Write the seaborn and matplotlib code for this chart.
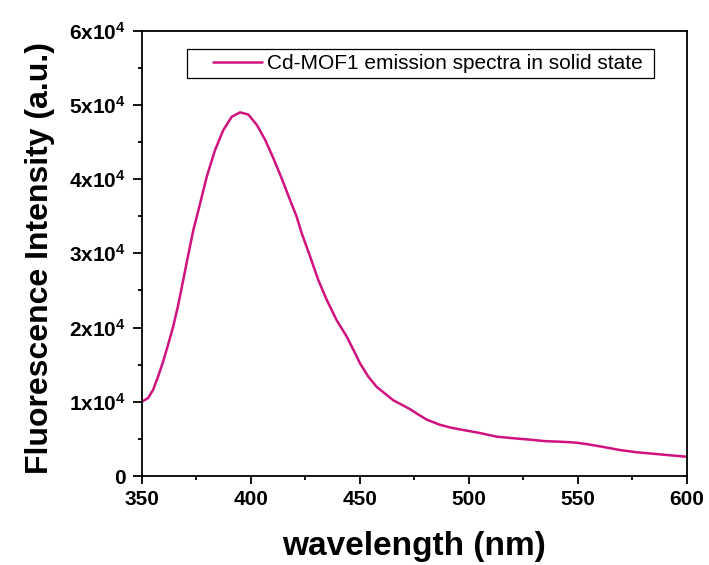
import numpy as np
import pandas as pd
import matplotlib
matplotlib.use("Agg")
import matplotlib.pyplot as plt
from matplotlib.ticker import FixedLocator, MultipleLocator, FuncFormatter
from matplotlib.legend_handler import HandlerLine2D
import seaborn as sns

# Emission spectrum of Cd-MOF1 (solid state)
wavelength = [350.0, 352.9, 355.2, 357.5, 359.8, 362.1, 364.4, 366.7, 368.9, 371.2,
              373.8, 376.0, 379.8, 383.6, 387.4, 391.3, 395.1, 398.9, 402.8, 406.6,
              410.4, 414.2, 418.0, 421.0, 423.4, 427.2, 431.0, 434.9, 439.4, 444.0,
              447.1, 450.1, 453.9, 457.8, 461.6, 465.4, 469.3, 473.1, 476.8, 480.7,
              486.8, 492.0, 497.5, 505.0, 512.8, 520.0, 528.1, 535.0, 543.4, 549.0,
              554.1, 562.0, 569.4, 577.0, 584.7, 592.0, 600.0]
intensity = [10000, 10500, 11600, 13400, 15400, 17700, 20100, 23000, 26200, 29600,
             33300, 35800, 40300, 43900, 46600, 48400, 49000, 48700, 47300, 45300,
             42800, 40100, 37200, 35000, 32700, 29600, 26400, 23700, 21000, 18800,
             17000, 15200, 13400, 12000, 11100, 10200, 9600, 9000, 8300, 7600,
             6900, 6500, 6200, 5800, 5300, 5100, 4900, 4700, 4600, 4500,
             4300, 3900, 3500, 3200, 3000, 2800, 2600]
series_label = "Cd-MOF1 emission spectra in solid state"
y_ticks = [0, 10000, 20000, 30000, 40000, 50000, 60000]
x_ticks = [350, 400, 450, 500, 550, 600]

# trailing space widens the legend box on the right
df = pd.DataFrame({"wavelength": wavelength, "intensity": intensity,
                   "series": series_label + " "})

sns.set_style("ticks")
plt.rcParams["font.family"] = ["Liberation Sans", "DejaVu Sans"]
plt.rcParams["mathtext.fontset"] = "custom"
plt.rcParams["mathtext.rm"] = "Liberation Sans:bold"
plt.rcParams["mathtext.bf"] = "Liberation Sans:bold"
plt.rcParams["mathtext.it"] = "Liberation Sans:bold"
for key in ["text.color", "axes.labelcolor", "xtick.color", "ytick.color",
            "axes.edgecolor"]:
    plt.rcParams[key] = "black"

fig = plt.figure(figsize=(7.09, 5.65), dpi=100)
ax = fig.add_axes([0.1999, 0.1575, 0.7687, 0.7882])

sns.lineplot(data=df, x="wavelength", y="intensity", hue="series",
             palette=["#cf1280"], linewidth=1.8, ax=ax, estimator=None, sort=False)

ax.set_xlim(350, 600)
ax.set_ylim(0, 60000)
ax.xaxis.set_major_locator(FixedLocator(x_ticks))
ax.xaxis.set_minor_locator(MultipleLocator(25))
ax.yaxis.set_major_locator(FixedLocator(y_ticks))
ax.yaxis.set_minor_locator(MultipleLocator(5000))


def fmt_y(v, pos):
    if v == 0:
        return "0"
    return r"$%dx10^{4}$" % int(round(v / 10000))


ax.yaxis.set_major_formatter(FuncFormatter(fmt_y))

ax.tick_params(axis="both", which="major", direction="out", length=6, width=1.3,
               labelsize=15, pad=4, top=False, right=False)
ax.tick_params(axis="y", which="major", length=6.5, pad=5)
ax.tick_params(axis="both", which="minor", direction="out", length=3, width=1.3,
               top=False, right=False)
for lab in ax.get_xticklabels() + ax.get_yticklabels():
    lab.set_fontweight("bold")

for sp in ax.spines.values():
    sp.set_visible(True)
    sp.set_linewidth(1.3)
    sp.set_color("black")

ax.set_xlabel("wavelength (nm)", fontsize=24, fontweight="bold")
ax.set_ylabel("Fluorescence Intensity (a.u.)", fontsize=23, fontweight="bold")
ax.xaxis.set_label_coords(0.5, -0.123)
ax.yaxis.set_label_coords(-0.16, 0.49)

leg = ax.legend(loc="upper left", bbox_to_anchor=(0.083, 0.959), fontsize=15,
                frameon=True, fancybox=False, edgecolor="black", framealpha=1,
                handlelength=3.36, borderpad=0.25, handletextpad=0.24,
                borderaxespad=0,
                handler_map={matplotlib.lines.Line2D: HandlerLine2D(xpad=1.0)})
leg.get_frame().set_linewidth(0.9)
leg.set_title(None)

fig.savefig("out.png", dpi=100)
